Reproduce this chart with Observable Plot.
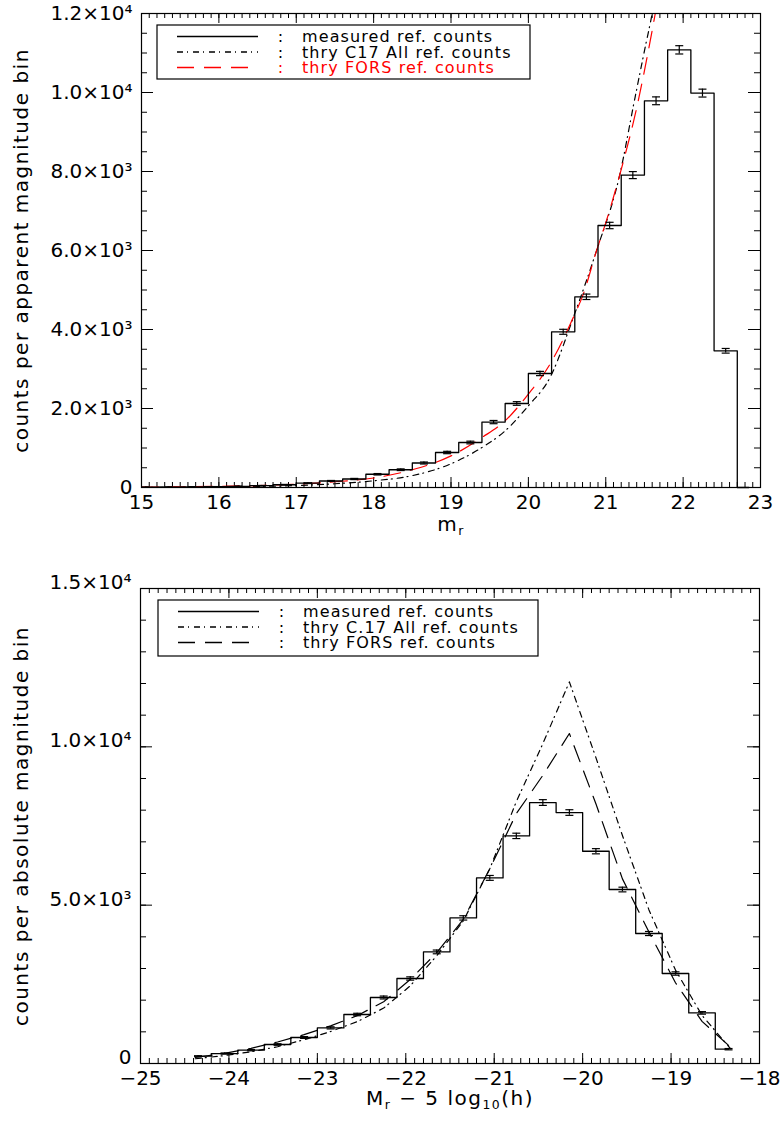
<!DOCTYPE html>
<html>
<head>
<meta charset="utf-8">
<script src="https://cdn.jsdelivr.net/npm/d3@7"></script>
<script src="https://cdn.jsdelivr.net/npm/@observablehq/plot@0.6"></script>
<style>
  body { margin: 0; background: #fff; }
  #chart { width: 783px; }
  #chart svg { display: block; }
</style>
</head>
<body>
<div id="chart"></div>
<script>
// ---------- apparent magnitude panel (m_r) ----------
const appBinCenters = [15.05, 15.35, 15.65, 15.95, 16.25, 16.55, 16.85, 17.15, 17.45, 17.75,
  18.05, 18.35, 18.65, 18.95, 19.25, 19.55, 19.85, 20.15, 20.45, 20.75,
  21.05, 21.35, 21.65, 21.95, 22.25, 22.55, 22.85];
const appCounts = [7, 10, 14, 20, 30, 45, 70, 110, 165, 215,
  335, 450, 620, 886, 1139, 1656, 2127, 2886, 3942, 4828,
  6633, 7909, 9790, 11080, 9985, 3461, 0];
const appErrors = [3, 3, 4, 4, 5, 7, 8, 10, 13, 15,
  18, 21, 25, 30, 34, 41, 46, 54, 63, 69,
  81, 89, 99, 105, 100, 59, 0];

const appC17Mag = [15.0, 15.5, 16.0, 16.5, 17.0, 17.5, 18.0, 18.5, 19.0, 19.4, 19.7, 20.0, 20.28, 20.58, 20.88, 21.18, 21.37, 21.5, 21.6, 21.68];
const appC17Counts = [5, 9, 16, 28, 50, 95, 170, 300, 600, 1013, 1435, 2068, 2785, 4300, 5992, 7909, 9790, 11055, 12000, 12900];

const appForsMag = [15.0, 15.5, 16.0, 16.5, 17.0, 17.5, 18.0, 18.5, 19.0, 19.4, 19.7, 20.0, 20.28, 20.58, 20.71, 20.88, 21.0, 21.18, 21.42, 21.55, 21.64, 21.72];
const appForsCounts = [10, 17, 30, 50, 86, 145, 240, 450, 800, 1266, 1689, 2365, 3124, 4304, 4896, 5992, 6700, 7909, 9790, 11055, 12000, 12900];

const appXTicks = [15, 16, 17, 18, 19, 20, 21, 22, 23];
const appYTicks = [0, 2000, 4000, 6000, 8000, 10000, 12000];

// ---------- absolute magnitude panel (M_r - 5 log10 h) ----------
const absBinCenters = [-24.35, -24.05, -23.75, -23.45, -23.15, -22.85, -22.55, -22.25, -21.95, -21.65,
  -21.35, -21.05, -20.75, -20.45, -20.15, -19.85, -19.55, -19.25, -18.95, -18.65, -18.35];
const absCounts = [231, 315, 420, 600, 821, 1125, 1547, 2084, 2684, 3524,
  4598, 5861, 7188, 8241, 7925, 6703, 5494, 4105, 2842, 1598, 452];
const absErrors = [15, 18, 20, 24, 29, 34, 39, 46, 52, 59,
  68, 77, 85, 91, 89, 82, 74, 64, 53, 40, 21];

const absCurveMag = [-24.38, -24.05, -23.75, -23.45, -23.15, -22.85, -22.55, -22.25, -21.95, -21.65,
  -21.35, -21.05, -20.75, -20.45, -20.15, -19.85, -19.55, -19.25, -18.95, -18.65, -18.33];
const absC17Counts = [150, 250, 370, 530, 750, 1010, 1320, 1750, 2450, 3400,
  4500, 6150, 8270, 10100, 12050, 9660, 7200, 4850, 2950, 1520, 474];
const absForsCounts = [190, 320, 480, 680, 910, 1190, 1510, 1950, 2650, 3500,
  4550, 6150, 7890, 9100, 10420, 8200, 5830, 4150, 2550, 1330, 520];

const absXTicks = [-25, -24, -23, -22, -21, -20, -19, -18];
const absYTicks = [0, 5000, 10000, 15000];

// ---------- helpers ----------
const FONT = "'DejaVu Sans', 'Liberation Sans', sans-serif";
const WIDTH = 783;
const DASH_DOT = "6,4,1,5";
const LONG_DASH = "17,10";

const SUP = {"0":"⁰","1":"¹","2":"²","3":"³","4":"⁴","5":"⁵","6":"⁶","7":"⁷","8":"⁸","9":"⁹"};
function sci(v) {
  if (v === 0) return "0";
  const e = Math.floor(Math.log10(v) + 1e-9);
  const m = v / Math.pow(10, e);
  return m.toFixed(1) + "×10" + String(e).split("").map(c => SUP[c]).join("");
}
const signed = d => d < 0 ? "−" + Math.abs(d) : String(d);

// horizontal cap for error bars
const capSymbol = { draw(ctx) { ctx.moveTo(-4, 0); ctx.lineTo(4, 0); } };

const zip = (xs, ys, es) => xs.map((x, i) => ({x, v: ys[i], e: es ? es[i] : 0}));

function panel(cfg) {
  const {height, margin, xDomain, yDomain, xTicks, xMinor, yTicks, yMinor, xFormat, hist, curves,
    xLabelRaw, yLabel, xLabelDy, yTickDy} = cfg;
  const fw = WIDTH - margin.left - margin.right;
  const fh = height - margin.top - margin.bottom;
  const errs = hist.filter(d => d.e > 0);
  const svg = Plot.plot({
    width: WIDTH,
    height,
    marginTop: margin.top,
    marginBottom: margin.bottom,
    marginLeft: margin.left,
    marginRight: margin.right,
    style: {fontFamily: FONT, fontSize: "20px", background: "white", color: "black"},
    x: {domain: xDomain, label: null},
    y: {domain: yDomain, label: null},
    marks: [
      // tick marks on all four sides, pointing inward
      Plot.ruleX(xMinor, {insetTop: fh - 5, stroke: "black"}),
      Plot.ruleX(xMinor, {insetBottom: fh - 5, stroke: "black"}),
      Plot.ruleX(xTicks, {insetTop: fh - 10, stroke: "black"}),
      Plot.ruleX(xTicks, {insetBottom: fh - 10, stroke: "black"}),
      Plot.ruleY(yMinor, {insetRight: fw - 6, stroke: "black"}),
      Plot.ruleY(yMinor, {insetLeft: fw - 6, stroke: "black"}),
      Plot.ruleY(yTicks, {insetRight: fw - 12, stroke: "black"}),
      Plot.ruleY(yTicks, {insetLeft: fw - 12, stroke: "black"}),
      Plot.axisX(xTicks, {tickSize: 0, tickPadding: 7, tickFormat: xFormat, label: null}),
      Plot.axisY(yTicks, {tickSize: 0, tickPadding: 9, dy: yTickDy, tickFormat: sci, label: null}),
      // model curves
      ...curves.map(c => Plot.line(c.data, {
        x: "x", y: "v", stroke: c.color, strokeWidth: 1.2,
        strokeDasharray: c.dash, curve: c.curve, clip: true
      })),
      // measured histogram with error bars
      Plot.line(hist, {x: "x", y: "v", curve: "step", stroke: "black", strokeWidth: 1.3}),
      Plot.ruleX(errs, {x: "x", y1: d => d.v - d.e, y2: d => d.v + d.e, stroke: "black", strokeWidth: 1.2}),
      Plot.dot(errs, {x: "x", y: d => d.v + d.e, symbol: capSymbol, fill: "none", stroke: "black", strokeWidth: 1.2}),
      Plot.dot(errs, {x: "x", y: d => d.v - d.e, symbol: capSymbol, fill: "none", stroke: "black", strokeWidth: 1.2}),
      Plot.frame({stroke: "black", strokeWidth: 1.2}),
      // axis titles
      Plot.text([yLabel], {text: d => d, frameAnchor: "left", textAnchor: "middle", lineAnchor: "middle",
        rotate: -90, dx: 21 - margin.left, fill: "black"}),
      Plot.text([xLabelRaw], {text: d => d, frameAnchor: "bottom", textAnchor: "middle", lineAnchor: "middle",
        dy: xLabelDy, fill: "black"})
    ]
  });
  // wider letter spacing for the axis titles
  svg.querySelectorAll("text").forEach(t => {
    if (t.textContent === yLabel || t.textContent === xLabelRaw) t.setAttribute("letter-spacing", "1.5");
  });
  return svg;
}

// rebuild a text element with subscript tspans
function subscriptify(svg, raw, parts) {
  const ns = "http://www.w3.org/2000/svg";
  svg.querySelectorAll("text").forEach(t => {
    if (t.textContent !== raw) return;
    while (t.firstChild) t.removeChild(t.firstChild);
    let lowered = false;
    for (const [s, sub] of parts) {
      const ts = document.createElementNS(ns, "tspan");
      ts.textContent = s;
      if (sub && !lowered) { ts.setAttribute("dy", "0.32em"); lowered = true; }
      else if (!sub && lowered) { ts.setAttribute("dy", "-0.2em"); lowered = false; }
      if (sub) ts.setAttribute("font-size", "0.62em");
      t.appendChild(ts);
    }
  });
}

function addLegend(svg, {x, y, w, h, rows}) {
  const g = d3.select(svg).append("g")
    .attr("font-family", FONT).attr("font-size", 16).attr("letter-spacing", 1.1)
    .attr("text-anchor", "start");
  g.append("rect").attr("x", x).attr("y", y).attr("width", w).attr("height", h)
    .attr("fill", "none").attr("stroke", "black").attr("stroke-width", 1.2);
  const offsets = [11.5, 27, 42.5];
  rows.forEach((r, i) => {
    const cy = y + offsets[i];
    g.append("line").attr("x1", x + 20).attr("x2", x + 101).attr("y1", cy).attr("y2", cy)
      .attr("stroke", r.color).attr("stroke-width", 1.3).attr("stroke-dasharray", r.dash || null);
    g.append("text").attr("x", x + 124).attr("y", cy).attr("dy", "0.35em")
      .attr("text-anchor", "middle").attr("fill", r.color).text(":");
    g.append("text").attr("x", x + 145).attr("y", cy).attr("dy", "0.35em")
      .attr("text-anchor", "start").attr("fill", r.color).text(r.label);
  });
}

const chart = document.getElementById("chart");

// top panel
const topMargin = {top: 13, bottom: 53, left: 141, right: 23};
const topSvg = panel({
  height: 540,
  margin: topMargin,
  xDomain: [15, 23], yDomain: [0, 12000],
  xTicks: appXTicks, xMinor: d3.range(15, 23.0001, 0.1),
  yTicks: appYTicks, yMinor: d3.range(0, 12001, 500),
  xFormat: signed,
  hist: zip(appBinCenters, appCounts, appErrors),
  curves: [
    {data: zip(appC17Mag, appC17Counts), color: "black", dash: DASH_DOT, curve: "monotone-x"},
    {data: zip(appForsMag, appForsCounts), color: "#ff0000", dash: LONG_DASH, curve: "monotone-x"}
  ],
  xLabelRaw: "m_r",
  xLabelDy: 37,
  yTickDy: 0,
  yLabel: "counts per apparent magnitude bin"
});
subscriptify(topSvg, "m_r", [["m", false], ["r", true]]);
addLegend(topSvg, {
  x: topMargin.left + 16, y: topMargin.top + 12, w: 373, h: 54,
  rows: [
    {label: "measured ref. counts", color: "black", dash: null},
    {label: "thry C17 All ref. counts", color: "black", dash: DASH_DOT},
    {label: "thry FORS ref. counts", color: "#ff0000", dash: LONG_DASH}
  ]
});
chart.appendChild(topSvg);

// bottom panel
const botMargin = {top: 48, bottom: 58, left: 140, right: 24};
const botSvg = panel({
  height: 581,
  margin: botMargin,
  xDomain: [-25, -18], yDomain: [0, 15000],
  xTicks: absXTicks, xMinor: d3.range(-25, -17.9999, 0.1),
  yTicks: absYTicks, yMinor: d3.range(0, 15001, 1000),
  xFormat: signed,
  hist: zip(absBinCenters, absCounts, absErrors),
  curves: [
    {data: zip(absCurveMag, absC17Counts), color: "black", dash: DASH_DOT, curve: "linear"},
    {data: zip(absCurveMag, absForsCounts), color: "black", dash: LONG_DASH, curve: "linear"}
  ],
  xLabelRaw: "M_r − 5 log_10(h)",
  xLabelDy: 35,
  yTickDy: -6,
  yLabel: "counts per absolute magnitude bin"
});
subscriptify(botSvg, "M_r − 5 log_10(h)", [["M", false], ["r", true], [" − 5 log", false], ["10", true], ["(h)", false]]);
addLegend(botSvg, {
  x: botMargin.left + 18, y: botMargin.top + 12, w: 380, h: 56,
  rows: [
    {label: "measured ref. counts", color: "black", dash: null},
    {label: "thry C.17 All ref. counts", color: "black", dash: DASH_DOT},
    {label: "thry FORS ref. counts", color: "black", dash: LONG_DASH}
  ]
});
chart.appendChild(botSvg);
</script>
</body>
</html>
